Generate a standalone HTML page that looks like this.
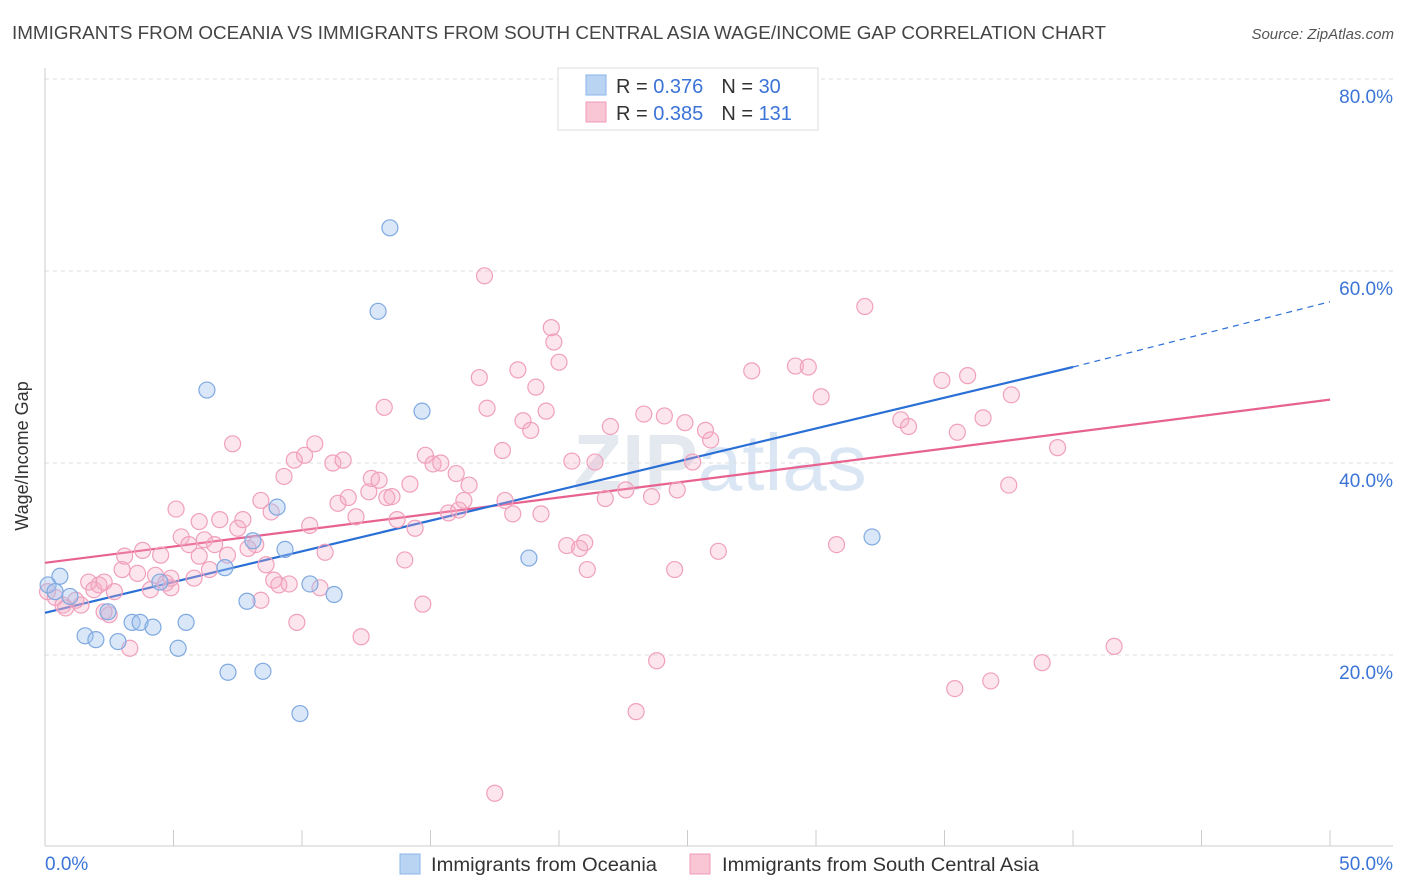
<!DOCTYPE html>
<html><head><meta charset="utf-8"><style>
body{margin:0;background:#fff;font-family:"Liberation Sans",sans-serif;}
svg{display:block}
</style></head><body>
<svg id="chart" width="1406" height="892">
<text x="12" y="39" font-size="18" fill="#444" textLength="1094" lengthAdjust="spacingAndGlyphs">IMMIGRANTS FROM OCEANIA VS IMMIGRANTS FROM SOUTH CENTRAL ASIA WAGE/INCOME GAP CORRELATION CHART</text>
<text x="1394" y="39" font-size="15" fill="#555" font-style="italic" text-anchor="end">Source: ZipAtlas.com</text>
<text x="720" y="490" font-size="80" fill="#e4e8ef" text-anchor="middle" font-weight="bold">ZIP<tspan fill="#dbe6f5" font-weight="normal">atlas</tspan></text>
<g id="grid"></g><g id="axes"></g><g id="lines"></g><g id="pts"></g>
<text x="28" y="456" font-size="18" fill="#333" text-anchor="middle" transform="rotate(-90 28 456)">Wage/Income Gap</text>
<g>
<rect x="558" y="68" width="260" height="62" fill="#fff" stroke="#ddd"/>
<rect x="586" y="75" width="20" height="20" fill="#b9d3f3" stroke="#8ab4e8"/>
<rect x="586" y="102" width="20" height="20" fill="#f9c6d6" stroke="#ef9ab8"/>
<text x="616" y="93" font-size="20" fill="#333">R = <tspan fill="#3b74d6">0.376</tspan><tspan dx="18">N = </tspan><tspan fill="#3b74d6">30</tspan></text>
<text x="616" y="120" font-size="20" fill="#333">R = <tspan fill="#3b74d6">0.385</tspan><tspan dx="18">N = </tspan><tspan fill="#3b74d6">131</tspan></text>
</g>
<g>
<rect x="400" y="854" width="20" height="20" fill="#b9d3f3" stroke="#8ab4e8"/>
<text x="431" y="871" font-size="19" fill="#333" textLength="226" lengthAdjust="spacingAndGlyphs">Immigrants from Oceania</text>
<rect x="690" y="854" width="20" height="20" fill="#f9c6d6" stroke="#ef9ab8"/>
<text x="722" y="871" font-size="19" fill="#333" textLength="317" lengthAdjust="spacingAndGlyphs">Immigrants from South Central Asia</text>
</g>
</svg>
<script>
const blueX=[0.12,0.58,0.97,0.39,2.45,1.56,1.98,2.84,3.39,3.70,4.20,4.47,5.18,5.49,6.30,7.00,7.12,7.86,8.09,8.48,9.03,9.34,9.92,10.31,11.25,12.96,13.42,14.67,18.83,32.18];
const blueY=[27.3,28.2,26.1,26.6,24.5,22.0,21.6,21.4,23.4,23.4,22.9,27.6,20.7,23.4,47.6,29.1,18.2,25.6,31.9,18.3,35.4,31.0,13.9,27.4,26.3,55.8,64.5,45.4,30.1,32.3];
const pinkX=[.1,.4,.7,.8,1.2,1.4,1.7,1.9,2.1,2.3,2.5,2.7,3.0,3.3,3.6,3.8,4.1,4.3,4.5,4.7,4.9,4.9,5.1,5.3,5.6,5.8,6.0,6.2,6.4,6.6,6.8,7.1,7.3,7.5,7.7,7.9,8.2,8.4,8.6,8.8,8.9,9.1,9.3,9.5,9.7,9.8,10.1,10.3,10.5,10.7,10.9,11.2,11.4,11.6,11.8,12.1,12.3,12.6,12.7,13.0,13.2,13.3,13.5,13.7,14.0,14.2,14.4,14.7,14.8,15.1,15.4,15.7,16.0,16.1,16.3,16.5,16.9,17.1,17.2,17.5,17.8,17.9,18.2,18.4,18.6,18.9,19.1,19.3,19.5,19.7,19.8,20.0,20.3,20.5,20.8,21.0,21.1,21.4,21.8,22.0,22.6,23.0,23.3,23.6,23.8,24.1,24.5,24.6,24.9,25.2,25.7,25.9,26.2,27.5,29.2,29.7,30.2,30.8,31.9,33.3,33.6,34.9,35.4,35.5,35.9,36.5,36.8,37.5,37.6,38.8,39.4,41.6,3.1,2.3,6.0,8.4];
const pinkY=[26.6,26.0,25.2,24.9,25.7,25.2,27.6,26.8,27.3,27.6,24.2,26.6,28.9,20.7,28.5,30.9,26.8,28.3,30.4,27.5,28.0,27.0,35.2,32.3,31.5,28.0,30.3,32.0,28.9,31.5,34.1,30.4,42.0,33.2,34.1,31.1,31.5,36.1,29.4,34.9,27.8,27.3,38.6,27.4,40.3,23.4,40.8,33.5,42.0,27.0,30.7,40.0,35.8,40.3,36.4,34.4,21.9,37.0,38.4,38.2,45.8,36.4,36.5,34.1,29.9,37.8,33.2,25.3,40.8,39.9,40.0,34.8,38.9,35.1,36.1,37.7,48.9,59.5,45.7,5.6,41.3,36.1,34.7,49.7,44.4,43.4,47.9,34.7,45.4,54.1,52.6,50.5,31.4,40.2,31.1,31.7,28.9,40.1,36.3,43.8,37.2,14.1,45.1,36.5,19.4,44.9,28.9,37.2,44.2,40.1,43.4,42.4,30.8,49.6,50.1,50.0,46.9,31.5,56.3,44.5,43.8,48.6,16.5,43.2,49.1,44.7,17.3,37.7,47.1,19.2,41.6,20.9,30.3,24.5,33.9,25.7];
const yTicks=[20,40,60,80];
const yTickLabels=["20.0%","40.0%","60.0%","80.0%"];
const xTicks=[0,5,10,15,20,25,30,35,40,45,50];
const blueFit=[24.4,50.0,56.8]; // y at x=0, x=40, x=50
const pinkFit=[29.6,46.6]; // y at x=0, x=50
const NS="http://www.w3.org/2000/svg";
const sx=v=>45+v*25.7, sy=v=>847-v*9.6;
function mk(parent,tag,attrs){const e=document.createElementNS(NS,tag);for(const k in attrs)e.setAttribute(k,attrs[k]);document.getElementById(parent).appendChild(e);return e;}
yTicks.forEach((t,i)=>{
 const l=mk('grid','line',{x1:45,x2:1393,y1:sy(t),y2:sy(t),stroke:'#ddd','stroke-dasharray':'4,4'});
 
 
 const tx=mk('grid','text',{x:1393,y:sy(t)+24,'font-size':19,fill:'#3b74d6','text-anchor':'end'});
 tx.textContent=yTickLabels[i];
 
 
});
const ax=mk('axes','line',{x1:45,x2:45,y1:68,y2:846,stroke:'#ccc'});


const bx=mk('axes','line',{x1:45,x2:1393,y1:846,y2:846,stroke:'#ccc'});


xTicks.forEach(t=>{const l=mk('axes','line',{x1:sx(t),x2:sx(t),y1:830,y2:846,stroke:'#ccc'});
 
 });
const x0=mk('axes','text',{x:45,y:870,'font-size':19,fill:'#3b74d6'});x0.textContent=xTicks[0].toFixed(1)+'%';


const x1=mk('axes','text',{x:1393,y:870,'font-size':19,fill:'#3b74d6','text-anchor':'end'});x1.textContent=xTicks[xTicks.length-1].toFixed(1)+'%';


pinkX.forEach((x,i)=>{const c=mk('pts','circle',{cx:sx(x),cy:sy(pinkY[i]),r:8,fill:'rgba(245,170,195,0.3)',stroke:'#f0a0bc','stroke-width':1.2});
 
 });
blueX.forEach((x,i)=>{const c=mk('pts','circle',{cx:sx(x),cy:sy(blueY[i]),r:8,fill:'rgba(160,196,240,0.4)',stroke:'#7fa9e0','stroke-width':1.2});
 
 });
const pl=mk('lines','line',{x1:sx(0),y1:sy(pinkFit[0]),x2:sx(50),y2:sy(pinkFit[1]),stroke:'#e8628f','stroke-width':2.2});


const bl=mk('lines','line',{x1:sx(0),y1:sy(blueFit[0]),x2:sx(40),y2:sy(blueFit[1]),stroke:'#2a6fd6','stroke-width':2.2});


const bd=mk('lines','line',{x1:sx(40),y1:sy(blueFit[1]),x2:sx(50),y2:sy(blueFit[2]),stroke:'#2a6fd6','stroke-width':1.2,'stroke-dasharray':'6,5'});


</script>
</body></html>
